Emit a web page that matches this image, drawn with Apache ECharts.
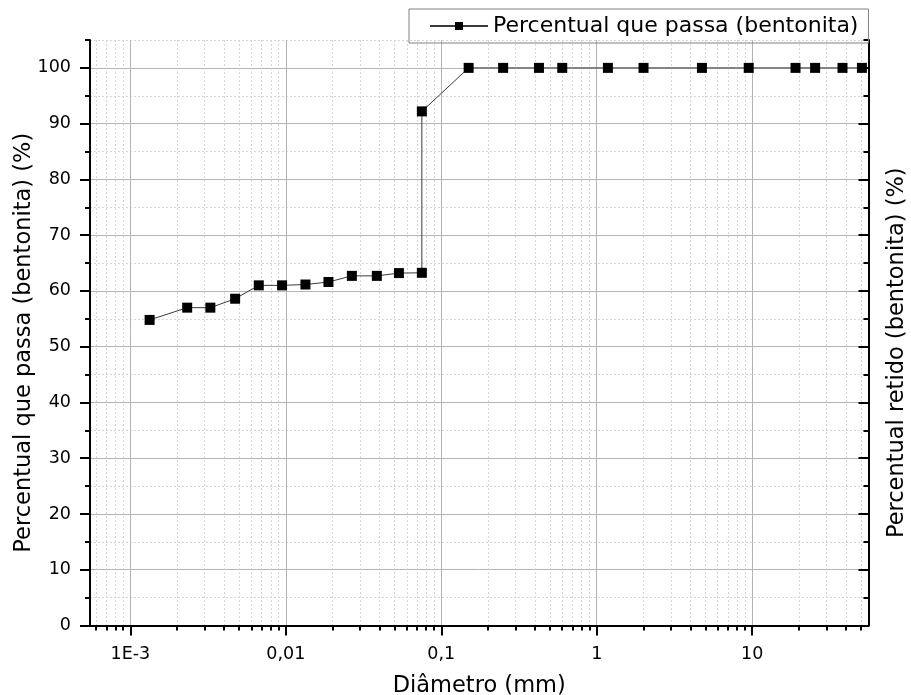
<!DOCTYPE html>
<html>
<head>
<meta charset="utf-8">
<script src="https://cdn.jsdelivr.net/npm/echarts@6/dist/echarts.min.js"></script>
<style>html,body{margin:0;padding:0;background:#fff}#c{width:911px;height:695px}</style>
</head>
<body>
<div id="c"></div>
<script>
const diameters = [0.00133, 0.00232, 0.00327, 0.00472, 0.0067, 0.00946, 0.01337, 0.0188, 0.0266, 0.0385, 0.0534, 0.075, 0.075, 0.15, 0.25, 0.425, 0.6, 1.18, 2.0, 4.75, 9.5, 19.0, 25.4, 38.1, 50.8];
const passing = [54.8, 57.0, 57.0, 58.6, 61.0, 61.0, 61.15, 61.6, 62.7, 62.7, 63.2, 63.25, 92.2, 100, 100, 100, 100, 100, 100, 100, 100, 100, 100, 100, 100];
const xMajorTicks = [0.001, 0.01, 0.1, 1, 10];
const xMajorLabels = ['1E-3', '0,01', '0,1', '1', '10'];
const xMinorTicks = [0.0006, 0.0007, 0.0008, 0.0009,
  0.002, 0.003, 0.004, 0.005, 0.006, 0.007, 0.008, 0.009,
  0.02, 0.03, 0.04, 0.05, 0.06, 0.07, 0.08, 0.09,
  0.2, 0.3, 0.4, 0.5, 0.6, 0.7, 0.8, 0.9,
  2, 3, 4, 5, 6, 7, 8, 9,
  20, 30, 40, 50];
const yMajorTicks = [0, 10, 20, 30, 40, 50, 60, 70, 80, 90, 100];
const yMinorTicks = [5, 15, 25, 35, 45, 55, 65, 75, 85, 95, 105];
const xMin = 0.00055, xMax = 56, yMin = 0, yMax = 105;

const FONT = '"DejaVu Sans", sans-serif';
const chart = echarts.init(document.getElementById('c'), null, {renderer: 'canvas'});
const majorGrid = {show: true, lineStyle: {color: '#b4b4b4', width: 1, type: 'solid'}};
const minorGrid = {show: true, lineStyle: {color: '#d6d6d6', width: 1, type: [2, 2]}};

const option = {
  backgroundColor: '#ffffff',
  animation: false,
  textStyle: {fontFamily: FONT},
  grid: {left: 90, right: 42.5, top: 40, bottom: 69.5, containLabel: false, outerBoundsMode: 'none'},
  legend: {
    left: 409, top: 9,
    padding: [6, 10, 6, 20],
    borderColor: '#808080', borderWidth: 1,
    itemWidth: 58, itemHeight: 10,
    textStyle: {fontSize: 22, color: '#000', fontFamily: FONT},
    data: ['Percentual que passa (bentonita)']
  },
  xAxis: [
    {
      type: 'log', logBase: 10, min: xMin, max: xMax, position: 'bottom',
      name: 'Diâmetro (mm)', nameLocation: 'middle', nameGap: 49, nameMoveOverlap: false,
      nameTextStyle: {fontSize: 22.5, color: '#000', fontFamily: FONT},
      axisLine: {show: true, onZero: false, lineStyle: {color: '#000', width: 2}},
      axisTick: {show: true, length: 10, customValues: xMajorTicks, lineStyle: {color: '#000', width: 2}},
      axisLabel: {show: true, customValues: xMajorTicks, margin: 20, fontSize: 17.5, color: '#000', fontFamily: FONT,
        formatter: function (v) { const i = xMajorTicks.findIndex(t => Math.abs(Math.log10(t) - Math.log10(v)) < 1e-6); return i >= 0 ? xMajorLabels[i] : ''; }},
      splitLine: majorGrid
    },
    {
      type: 'log', logBase: 10, min: xMin, max: xMax, position: 'bottom',
      axisLine: {show: false, onZero: false},
      axisTick: {show: true, length: 5, customValues: xMinorTicks, lineStyle: {color: '#000', width: 2}},
      axisLabel: {show: false},
      splitLine: minorGrid
    }
  ],
  yAxis: [
    {
      type: 'value', min: yMin, max: yMax, position: 'left',
      name: 'Percentual que passa (bentonita) (%)', nameLocation: 'middle', nameGap: 54, nameRotate: 90, nameMoveOverlap: false,
      nameTextStyle: {fontSize: 22.5, color: '#000', fontFamily: FONT, padding: [0, 20, 0, 0]},
      axisLine: {show: true, onZero: false, lineStyle: {color: '#000', width: 2}},
      axisTick: {show: true, length: 10, customValues: yMajorTicks, lineStyle: {color: '#000', width: 2}},
      axisLabel: {show: true, customValues: yMajorTicks, margin: 19, fontSize: 17.5, color: '#000', fontFamily: FONT},
      splitLine: majorGrid
    },
    {
      type: 'value', min: yMin, max: yMax, position: 'left',
      axisLine: {show: false, onZero: false},
      axisTick: {show: true, length: 5, customValues: yMinorTicks, lineStyle: {color: '#000', width: 2}},
      axisLabel: {show: false},
      splitLine: minorGrid
    },
    {
      type: 'value', min: yMin, max: yMax, position: 'right',
      name: 'Percentual retido (bentonita) (%)', nameLocation: 'middle', nameGap: 17, nameRotate: 90, nameMoveOverlap: false,
      nameTextStyle: {fontSize: 22.5, color: '#000', fontFamily: FONT, padding: [0, 40, 0, 0]},
      axisLine: {show: true, onZero: false, lineStyle: {color: '#000', width: 2}},
      axisTick: {show: true, inside: true, length: 10, customValues: yMajorTicks, lineStyle: {color: '#000', width: 2}},
      axisLabel: {show: false},
      splitLine: {show: false}
    },
    {
      type: 'value', min: yMin, max: yMax, position: 'right',
      axisLine: {show: false, onZero: false},
      axisTick: {show: true, inside: true, length: 5, customValues: yMinorTicks, lineStyle: {color: '#000', width: 2}},
      axisLabel: {show: false},
      splitLine: {show: false}
    }
  ],
  series: [
    {
      name: 'Percentual que passa (bentonita)',
      type: 'line', xAxisIndex: 0, yAxisIndex: 0,
      data: diameters.map((d, i) => [d, passing[i]]),
      symbol: 'rect', symbolSize: 10,
      itemStyle: {color: '#000'},
      lineStyle: {color: '#3a3a3a', width: 1},
      clip: false
    }
  ]
};
chart.setOption(option);
</script>
</body>
</html>
